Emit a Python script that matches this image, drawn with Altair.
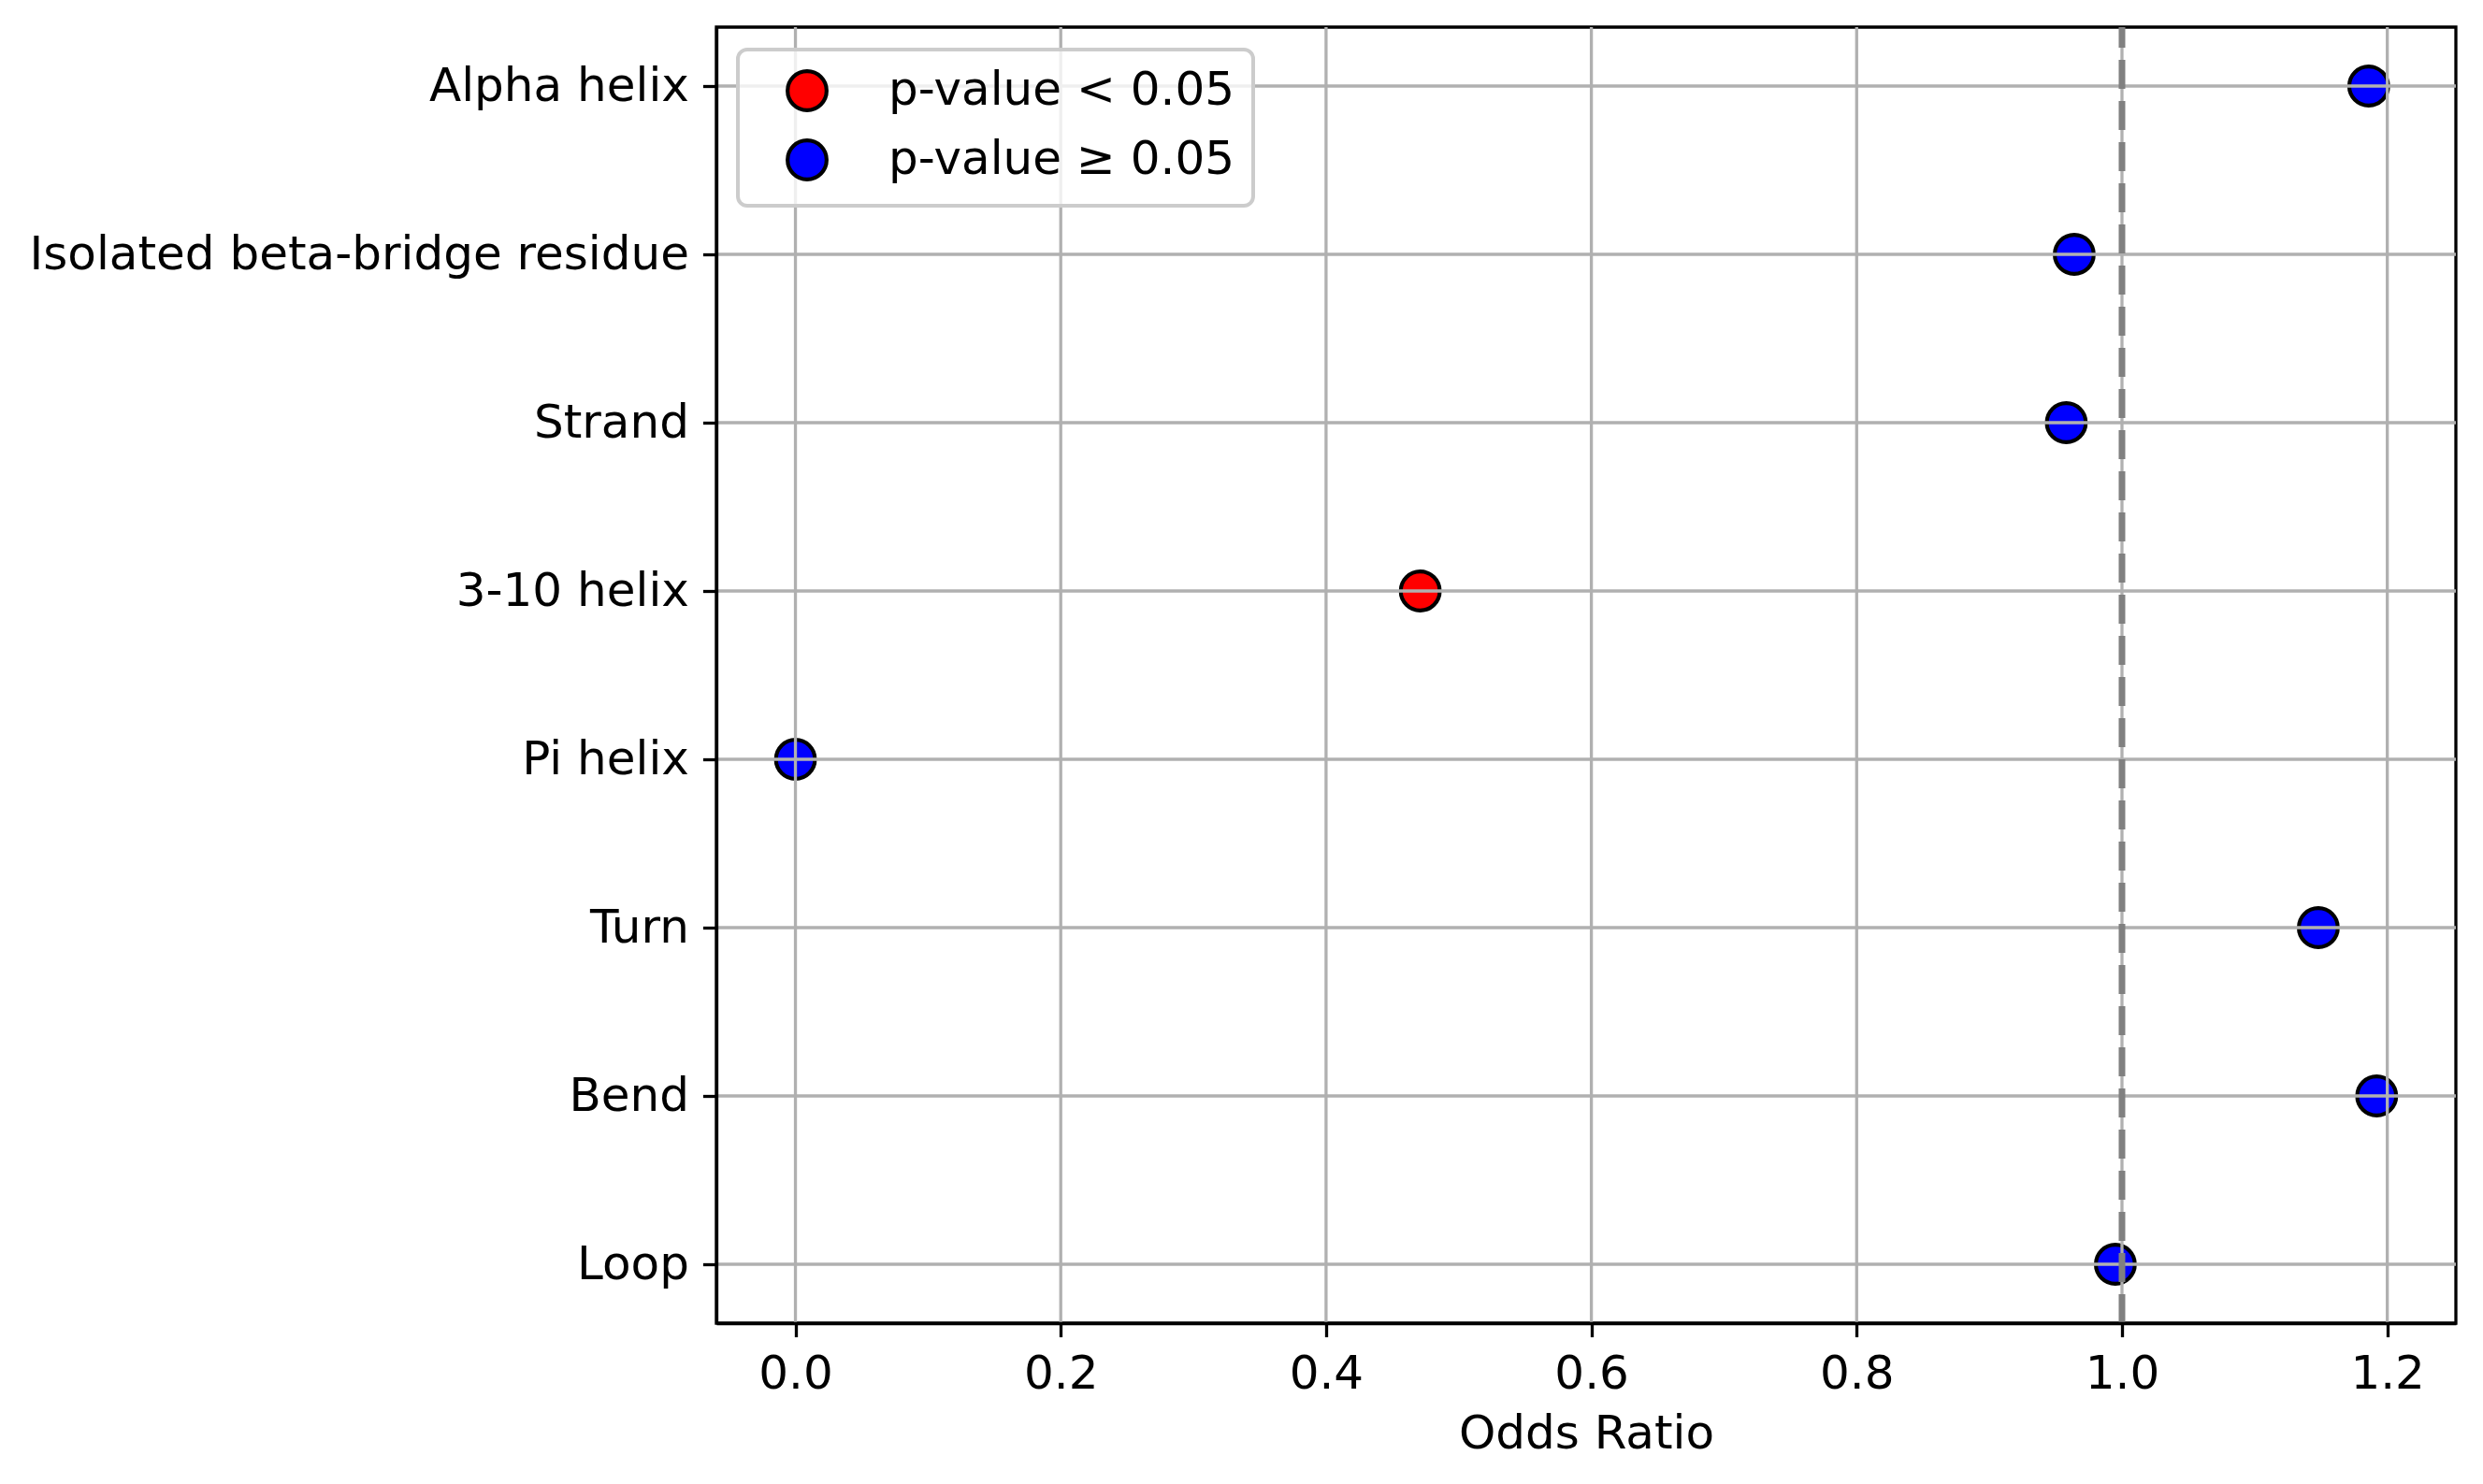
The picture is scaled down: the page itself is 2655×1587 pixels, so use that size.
import altair as alt
import pandas as pd

categories = ["Alpha helix", "Isolated beta-bridge residue", "Strand", "3-10 helix",
              "Pi helix", "Turn", "Bend", "Loop"]
odds_ratios = [1.186, 0.964, 0.958, 0.471, 0.0, 1.148, 1.192, 0.995]
significance = ["p-value ≥ 0.05", "p-value ≥ 0.05", "p-value ≥ 0.05", "p-value < 0.05",
                "p-value ≥ 0.05", "p-value ≥ 0.05", "p-value ≥ 0.05", "p-value ≥ 0.05"]
legend_labels = ["p-value < 0.05", "p-value ≥ 0.05"]
legend_colors = ["#ff0000", "#0000ff"]
x_ticks = [0.0, 0.2, 0.4, 0.6, 0.8, 1.0, 1.2]
reference_value = [1.0]

df = pd.DataFrame({"cat": categories, "odds": odds_ratios, "sig": significance})
ref_df = pd.DataFrame({"odds": reference_value})
xgrid_df = pd.DataFrame({"odds": x_ticks})
ygrid_df = pd.DataFrame({"cat": categories})

x_scale = alt.Scale(domain=[-0.0596, 1.2517], nice=False, zero=False)
y_scale = alt.Scale(type="point", padding=0.35)

points = alt.Chart(df).mark_point(
    filled=True, shape="circle", size=1739, stroke="black", strokeWidth=4.17, opacity=1
).encode(
    x=alt.X("odds:Q", scale=x_scale,
            axis=alt.Axis(values=x_ticks, format=".1f", title="Odds Ratio", grid=False, zindex=1)),
    y=alt.Y("cat:N", sort=categories, scale=y_scale,
            axis=alt.Axis(title=None, grid=False, zindex=1)),
    color=alt.Color("sig:N",
                    scale=alt.Scale(domain=legend_labels, range=legend_colors),
                    legend=alt.Legend(title=None, orient="none", legendX=23, legendY=24)),
)

xgrid = alt.Chart(xgrid_df).mark_rule(color="#b0b0b0", strokeWidth=3.3).encode(
    x=alt.X("odds:Q", scale=x_scale),
)

ygrid = alt.Chart(ygrid_df).mark_rule(color="#b0b0b0", strokeWidth=3.3).encode(
    y=alt.Y("cat:N", sort=categories, scale=y_scale),
)

rule = alt.Chart(ref_df).mark_rule(
    color="#808080", strokeWidth=7, strokeDash=[31, 13]
).encode(
    x=alt.X("odds:Q", scale=x_scale),
    y=alt.value(1386),
    y2=alt.value(0),
)

chart = alt.layer(points, xgrid, ygrid, rule).properties(
    width=1860,
    height=1386,
    autosize=alt.AutoSizeParams(type="none"),
    padding={"left": 758, "top": 21, "right": 15, "bottom": 150},
    background="white",
).configure_axis(
    labelFont="DejaVu Sans", labelFontSize=50, labelColor="black",
    titleFont="DejaVu Sans", titleFontSize=50, titleFontWeight="normal", titleColor="black",
    tickColor="black", tickSize=14.6, tickWidth=3.3,
    domainColor="black", domainWidth=3.3,
    labelPadding=15, labelLimit=1000,
).configure_axisX(
    titlePadding=14, labelFlush=False,
).configure_legend(
    fillColor="rgba(255,255,255,0.8)", strokeColor="#cccccc", strokeWidth=4,
    cornerRadius=10, padding=19,
    labelFont="DejaVu Sans", labelFontSize=50, labelColor="black", labelLimit=1000,
    symbolSize=1739, symbolStrokeWidth=4.17, symbolStrokeColor="black", symbolType="circle",
    rowPadding=14, labelOffset=62, symbolOffset=30, zindex=2,
).configure_view(
    stroke="black", strokeWidth=3.3,
)

chart.save("out.html", embed_options={"renderer": "svg", "actions": False})
